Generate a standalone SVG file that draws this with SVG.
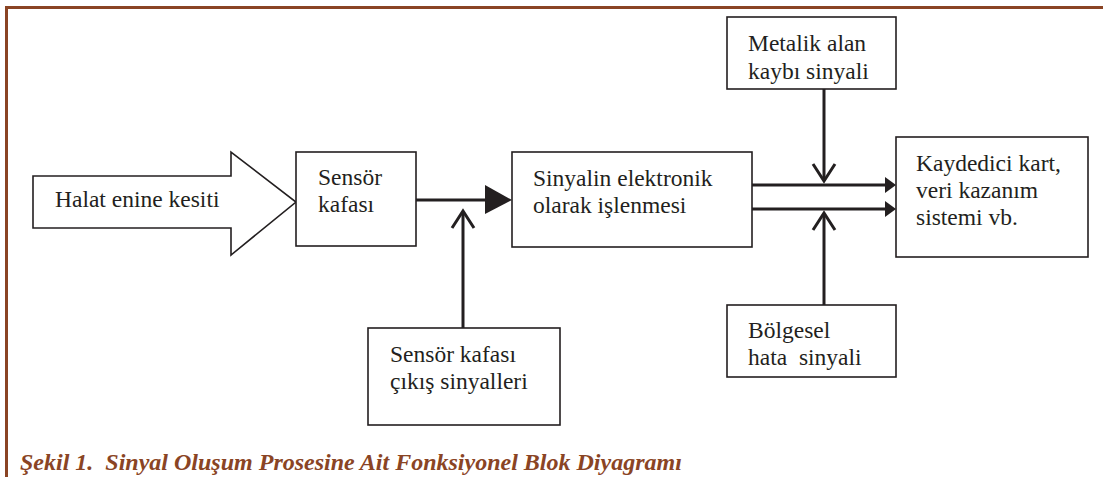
<svg xmlns="http://www.w3.org/2000/svg" width="1103" height="477" viewBox="0 0 1103 477">
<style>
.box{fill:#fff;stroke:#231f20;stroke-width:1.6}
.t{font-family:"Liberation Serif","Times New Roman",serif;font-size:23.5px;fill:#231f20}
.c{stroke:#231f20;stroke-width:3;fill:none}
.v{stroke:#231f20;stroke-width:3;fill:none;stroke-linejoin:miter}
.h{fill:#231f20}
.cap{font-family:"Liberation Serif","Times New Roman",serif;font-size:24px;font-weight:bold;font-style:italic;fill:#8a4424}
</style>
<rect width="1103" height="477" fill="#fff"/>
<g id="frame">
<path d="M6.5,477 V7.5 H1103" fill="none" stroke="#8a4424" stroke-width="3"/>
</g>
<g id="halat">
<polygon class="box" points="33,176 231,176 231,152 296,202 231,255 231,228 33,228"/>
<text class="t" x="55" y="207">Halat enine kesiti</text>
</g>
<g id="sensor">
<rect class="box" x="296" y="152" width="120" height="94"/>
<text class="t" x="318" y="185">Sensör</text>
<text class="t" x="318" y="212">kafası</text>
</g>
<g id="isleme">
<rect class="box" x="512" y="152" width="240" height="95"/>
<text class="t" x="533" y="186">Sinyalin elektronik</text>
<text class="t" x="533" y="213">olarak işlenmesi</text>
</g>
<g id="cikis">
<rect class="box" x="368" y="328" width="192" height="97"/>
<text class="t" x="390" y="362">Sensör kafası</text>
<text class="t" x="390" y="389">çıkış sinyalleri</text>
</g>
<g id="metalik">
<rect class="box" x="727" y="17" width="169" height="72"/>
<text class="t" x="748" y="51">Metalik alan</text>
<text class="t" x="748" y="79">kaybı sinyali</text>
</g>
<g id="bolgesel">
<rect class="box" x="727" y="305" width="169" height="72"/>
<text class="t" x="748" y="338">Bölgesel</text>
<text class="t" x="748" y="365" xml:space="preserve">hata  sinyali</text>
</g>
<g id="kaydedici">
<rect class="box" x="896" y="137" width="192" height="120"/>
<text class="t" x="916" y="171">Kaydedici kart,</text>
<text class="t" x="916" y="198">veri kazanım</text>
<text class="t" x="916" y="225">sistemi vb.</text>
</g>
<g id="connectors">
<line class="c" x1="416" y1="200" x2="488" y2="200"/>
<polygon class="h" points="485,185 512,200 485,214"/>
<line class="c" x1="463" y1="328" x2="463" y2="212"/>
<polyline class="v" points="452,228 463,211 474,228"/>
<line class="c" x1="752" y1="185" x2="888" y2="185"/>
<polygon class="h" points="885,177 896,185 885,193"/>
<line class="c" x1="752" y1="209" x2="888" y2="209"/>
<polygon class="h" points="885,201 896,209 885,217"/>
<line class="c" x1="824" y1="89" x2="824" y2="180"/>
<polyline class="v" points="813,164 824,181 835,164"/>
<line class="c" x1="824" y1="305" x2="824" y2="214"/>
<polyline class="v" points="813,230 824,213 835,230"/>
</g>
<text class="cap" x="20" y="470" xml:space="preserve">Şekil 1.  Sinyal Oluşum Prosesine Ait Fonksiyonel Blok Diyagramı</text>
</svg>
